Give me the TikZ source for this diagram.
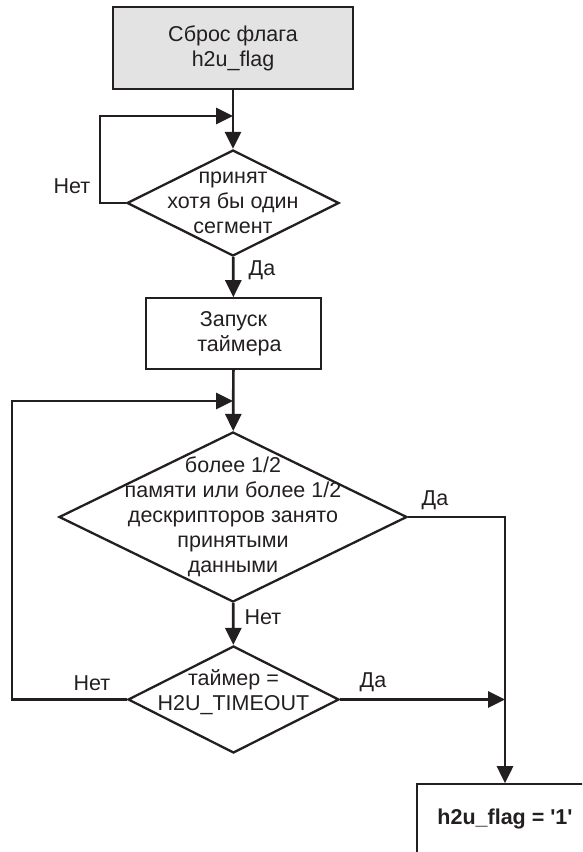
\documentclass[tikz,border=0pt]{standalone}
\usepackage{fontspec}
\newfontfamily\lsans{Liberation Sans}
\usetikzlibrary{shapes.geometric,arrows.meta}
\definecolor{ink}{HTML}{231F20}
\definecolor{boxgray}{HTML}{E3E3E3}
\tikzset{
  blk/.style={draw=ink,line width=1.6pt,minimum width=175pt,minimum height=71pt,inner sep=0pt},
  dec/.style={diamond,draw=ink,line width=2.3pt,inner sep=0pt},
  txt/.style={align=center,font=\lsans\fontsize{21.5}{25}\selectfont,text=ink},
  flow/.style={draw=ink,line width=2.7pt,-{Triangle[length=17pt,width=16pt]}},
}
\begin{document}
\begin{tikzpicture}[x=1pt,y=-1pt]
\clip (0,0) rectangle (582,852);
% blocks
\node[blk,txt,fill=boxgray,line width=2.2pt,minimum width=240pt,minimum height=82pt] (reset) at (233,48) {Сброс флага\\h2u\_flag};
\node[dec,minimum width=212pt,minimum height=106pt] (seg) at (233,203) {};
\node[txt] at (seg) {принят\\хотя бы один\\сегмент};
\node[blk,txt] (timer) at (233.5,333.5) {Запуск\\\hspace*{12pt}таймера};
\node[dec,minimum width=348pt,minimum height=170pt] (mem) at (233,517) {};
\node[txt] at (mem) {более 1/2\\памяти или более 1/2\\дескрипторов занято\\принятыми\\данными};
\node[dec,minimum width=211pt,minimum height=107pt] (tmo) at (233.5,699.5) {};
\node[txt,yshift=7pt] at (tmo) {таймер =\\H2U\_TIMEOUT};
\node[blk,txt,font=\lsans\bfseries\fontsize{21.5}{25}\selectfont,minimum width=176pt,minimum height=70pt] (done) at (505,819) {h2u\_flag = '1'};
\coordinate (j1) at (233,116);
\coordinate (j2) at (233,401);
\coordinate (j3) at (505,699.5);
% connectors
\draw[flow] (reset) -- (seg);
\draw[flow] (seg.west) -- ++(-26pt,0) |- (j1);
\draw[flow] (seg) -- (timer);
\draw[flow] (timer) -- (mem);
\draw[flow] (mem) -- (tmo);
\draw[flow] (tmo.west) -- ++(-115pt,0) |- (j2);
\draw[flow] (tmo.east) -- (j3);
\draw[flow] (mem.east) -| (done.north);
% labels
\node[txt] (no1) at (72,186) {Нет};
\node[txt] (yes1) at (262,270) {Да};
\node[txt] (yes2) at (435,500) {Да};
\node[txt] (no2) at (263,617) {Нет};
\node[txt] (no3) at (92,683) {Нет};
\node[txt] (yes3) at (373,682) {Да};
\end{tikzpicture}
\end{document}
